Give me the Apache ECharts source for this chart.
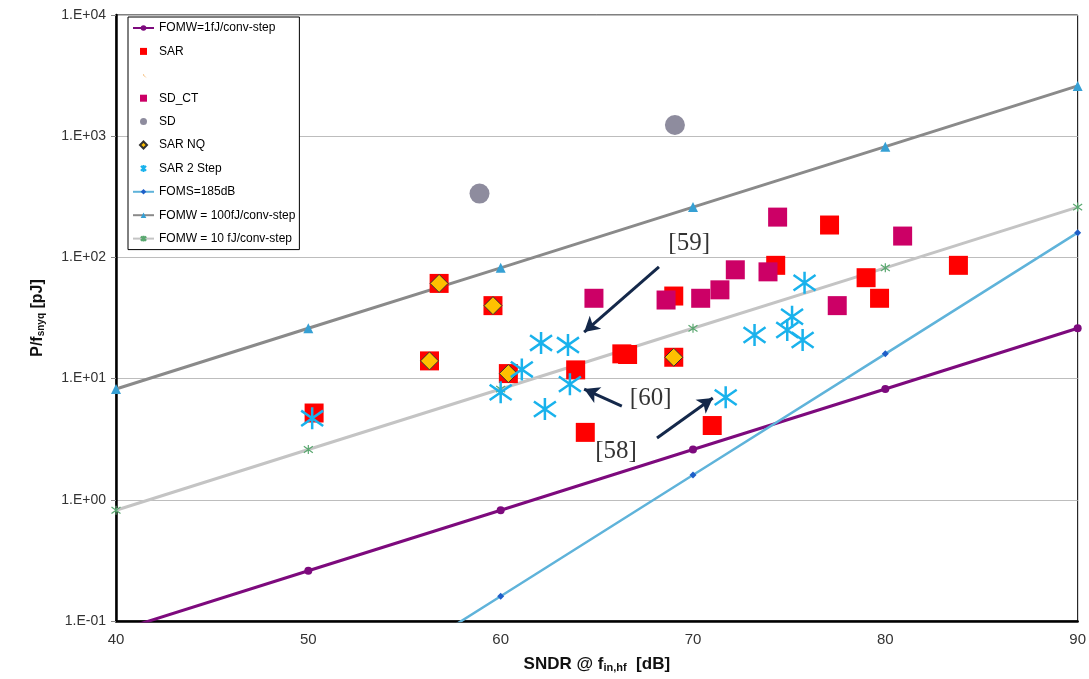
<!DOCTYPE html>
<html>
<head>
<meta charset="utf-8">
<script src="https://cdn.jsdelivr.net/npm/echarts@6/dist/echarts.min.js"></script>
<style>
html,body{margin:0;padding:0;background:#fff;}
#chart{width:1089px;height:679px;}
</style>
</head>
<body>
<div id="chart"></div>
<script>
// ---------- data ----------
const xTicks = [40, 50, 60, 70, 80, 90];
const yTickLabels = ['1.E-01', '1.E+00', '1.E+01', '1.E+02', '1.E+03', '1.E+04'];

// reference FOM lines: [SNDR dB, P/fsnyq pJ]
const fomw1 = [[40, 0.082], [50, 0.26], [60, 0.82], [70, 2.6], [80, 8.2], [90, 26]];
const foms185 = [[50, 0.016], [60, 0.16], [70, 1.6], [80, 16], [90, 160]];
const fomw100 = [[40, 8.2], [50, 26], [60, 82], [70, 260], [80, 820], [90, 2600]];
const fomw10 = [[40, 0.82], [50, 2.6], [60, 8.2], [70, 26], [80, 82], [90, 260]];

// scatter groups
const sar = [[50.3, 5.2], [56.8, 61], [56.3, 14], [59.6, 40], [60.4, 11], [63.9, 11.8], [64.4, 3.6],
  [66.3, 16], [66.6, 15.8], [69.0, 48], [69.0, 15], [71.0, 4.1], [74.3, 86], [77.1, 185],
  [79.0, 68], [79.7, 46], [83.8, 86]];
const sdCt = [[64.85, 46], [68.6, 44.5], [70.4, 46], [71.4, 54], [72.2, 79], [73.9, 76],
  [74.4, 215], [77.5, 40], [80.9, 150]];
const sd = [[58.9, 336], [69.06, 1236]];
const sarNq = [[56.8, 61], [56.3, 14], [59.6, 40], [60.4, 11], [69.0, 15]];
const sar2Step = [[50.2, 4.7], [60.0, 7.7], [61.1, 11.9], [62.1, 19.7], [63.5, 18.9], [62.3, 5.6],
  [63.6, 9.0], [71.7, 7.0], [73.2, 22.9], [75.15, 32.4], [74.9, 25.2], [75.7, 20.8], [75.8, 61.8]];

// annotations: label text positions and arrows (start -> end) in data units
const annotLabels = [[69.8, 131, '[59]'], [67.8, 6.8, '[60]'], [66.0, 2.53, '[58]']];
const annotArrows = [
  [[68.23, 83.4], [64.34, 24.2]],
  [[66.3, 5.94], [64.34, 8.2]],
  [[68.13, 3.24], [71.03, 6.92]]
];

// ---------- chart ----------
const asterisk = 'path://M0,-10L0,10M-7.5,-7L7.5,7M-7.5,7L7.5,-7';
const squareIcon = 'path://M0,0L10,0L10,10L0,10Z';
const diamondIcon = 'path://M5,0L10,5L5,10L0,5Z';
const tinyDot = 'path://M0,0M10,10L4.2,4.2L5.8,4.2L5.8,5.8L4.2,5.8Z';
const font = '"Liberation Sans", Arial, sans-serif';

const chart = echarts.init(document.getElementById('chart'), null, {renderer: 'canvas'});

const lineSeries = (name, data, lineColor, width, symbol, symSize, symColor, extra) => Object.assign({
  name, type: 'line', data, z: 2,
  symbol, symbolSize: symSize,
  lineStyle: {color: lineColor, width},
  itemStyle: {color: symColor, opacity: 1},
  showSymbol: true, clip: true
}, extra || {});

const option = {
  animation: false,
  backgroundColor: '#fff',
  grid: {left: 116, right: 10, top: 15, bottom: 58, show: true, borderColor: '#000', borderWidth: 1, backgroundColor: '#fff'},
  legend: {
    orient: 'vertical', left: 128, top: 17,
    padding: [4, 4, 4, 4],
    backgroundColor: '#fff', borderColor: '#000', borderWidth: 1,
    itemWidth: 21, itemHeight: 7, itemGap: 9.4,
    textStyle: {fontSize: 12, fontFamily: font, color: '#000', lineHeight: 14},
    selectedMode: false,
    data: [
      'FOMW=1fJ/conv-step',
      {name: 'SAR', icon: squareIcon},
      {name: ' ', icon: tinyDot, itemStyle: {color: '#f0a040'}},
      {name: 'SD_CT', icon: squareIcon},
      {name: 'SD', icon: 'circle'},
      {name: 'SAR NQ', icon: diamondIcon},
      {name: 'SAR 2 Step', icon: asterisk,
        itemStyle: {color: 'rgba(0,0,0,0)', borderColor: '#19b2ec', borderWidth: 2}},
      'FOMS=185dB',
      'FOMW = 100fJ/conv-step',
      'FOMW = 10 fJ/conv-step'
    ]
  },
  xAxis: {
    type: 'value', min: 40, max: 90, interval: 10,
    axisLine: {show: true, lineStyle: {color: '#000', width: 2.5}},
    axisTick: {show: false},
    splitLine: {show: false},
    axisLabel: {fontSize: 15, fontFamily: font, color: '#333', margin: 11,
      formatter: v => String(xTicks[xTicks.indexOf(v)])},
    name: '{m|SNDR @ f}{s|in,hf}{m|  [dB]}',
    nameLocation: 'middle', nameGap: 32,
    nameTextStyle: {
      rich: {
        m: {fontSize: 17, fontWeight: 'bold', fontFamily: font, color: '#111', lineHeight: 20, verticalAlign: 'bottom'},
        s: {fontSize: 11, fontWeight: 'bold', fontFamily: font, color: '#111', lineHeight: 8, verticalAlign: 'bottom'}
      }
    }
  },
  yAxis: {
    type: 'log', logBase: 10, min: 0.1, max: 10000,
    axisLine: {show: true, lineStyle: {color: '#000', width: 2.5}},
    axisTick: {show: true, length: 5, lineStyle: {color: '#888'}},
    splitLine: {show: true, lineStyle: {color: '#bdbdbd', width: 1.2}},
    axisLabel: {
      fontSize: 14, fontFamily: font, color: '#333', margin: 10,
      formatter: v => yTickLabels[Math.round(Math.log10(v)) + 1]
    },
    name: '{m|P/f}{s|snyq}{m| [pJ]}',
    nameLocation: 'middle', nameRotate: 90, nameGap: 70,
    nameTextStyle: {
      rich: {
        m: {fontSize: 16, fontWeight: 'bold', fontFamily: font, color: '#111', lineHeight: 20, verticalAlign: 'bottom'},
        s: {fontSize: 10, fontWeight: 'bold', fontFamily: font, color: '#111', lineHeight: 8, verticalAlign: 'bottom'}
      }
    }
  },
  series: [
    lineSeries('FOMW=1fJ/conv-step', fomw1, '#7d0a7d', 3, 'circle', 8, '#7d0a7d'),
    {name: 'SAR', type: 'scatter', z: 3, data: sar, symbol: 'rect', symbolSize: 19,
      itemStyle: {color: '#ff0000', opacity: 1}},
    {name: ' ', type: 'scatter', z: 3, data: [], symbolSize: 2, itemStyle: {color: '#f0a040', opacity: 1}},
    {name: 'SD_CT', type: 'scatter', z: 3, data: sdCt, symbol: 'rect', symbolSize: 19,
      itemStyle: {color: '#cc0066', opacity: 1}},
    {name: 'SD', type: 'scatter', z: 3, data: sd, symbol: 'circle', symbolSize: 20,
      itemStyle: {color: '#8e8c9e', opacity: 1}},
    {name: 'SAR NQ', type: 'scatter', z: 3, data: sarNq, symbol: 'diamond', symbolSize: 18,
      itemStyle: {color: '#ffc000', borderColor: '#333', borderWidth: 1, opacity: 1}},
    {name: 'SAR 2 Step', type: 'scatter', z: 3, data: sar2Step, symbol: asterisk, symbolSize: 22,
      itemStyle: {color: 'rgba(0,0,0,0)', borderColor: '#19b2ec', borderWidth: 2.5, opacity: 1}},
    lineSeries('FOMS=185dB', foms185, '#5fb3da', 2.5, 'diamond', 7, '#1f5fc8'),
    lineSeries('FOMW = 100fJ/conv-step', fomw100, '#8a8a8a', 3, 'triangle', 10, '#36a0d4'),
    lineSeries('FOMW = 10 fJ/conv-step', fomw10, '#c4c4c4', 3, asterisk, 9, '#5aa870',
      {itemStyle: {color: 'rgba(0,0,0,0)', borderColor: '#5aa870', borderWidth: 1.2, opacity: 1}}),
    {
      name: 'annot', type: 'scatter', z: 6, silent: true,
      data: annotLabels, symbolSize: 1, itemStyle: {color: 'rgba(0,0,0,0)'},
      label: {show: true, position: 'inside', formatter: p => p.value[2],
        fontFamily: '"Liberation Serif", "Times New Roman", serif', fontSize: 25, color: '#000'},
      markLine: {
        silent: true, symbol: ['none', 'arrow'], symbolSize: [13, 15],
        label: {show: false},
        lineStyle: {color: '#14284a', width: 3, type: 'solid'},
        emphasis: {disabled: true},
        data: annotArrows.map(a => [{coord: a[0]}, {coord: a[1]}])
      }
    }
  ]
};
chart.setOption(option);
</script>
</body>
</html>
